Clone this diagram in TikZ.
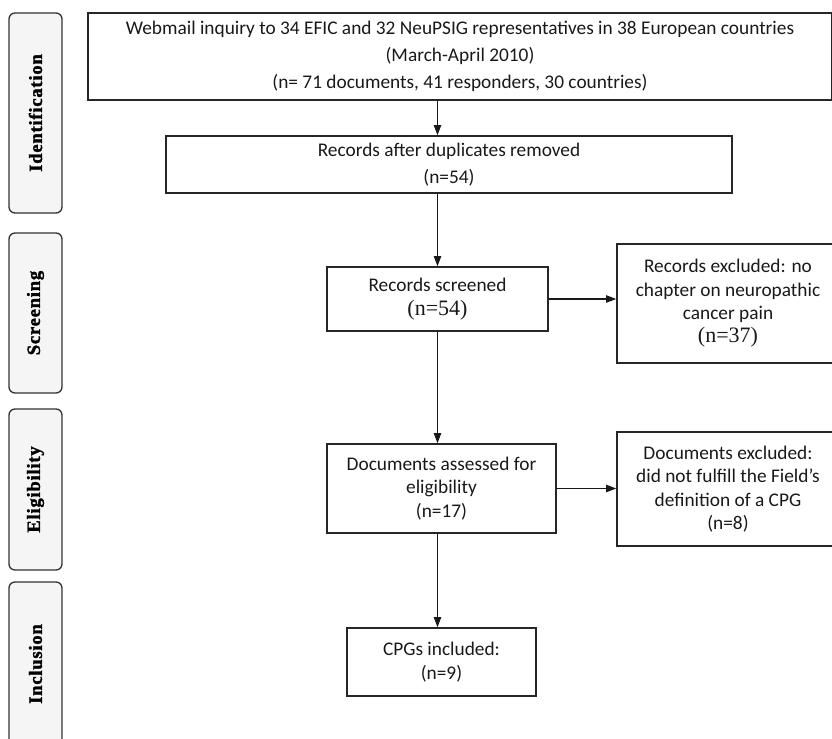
\documentclass[tikz,border=0pt]{standalone}
\usepackage{fontspec}
\setmainfont{Carlito}
\newfontfamily\numfont{Liberation Serif}
\newfontfamily\phasefont[LetterSpace=4,FakeBold=1.6]{Liberation Serif Bold}
\usetikzlibrary{arrows.meta}

\newcommand{\tnum}[1]{{\numfont\fontsize{16.5}{17.5}\selectfont(n=#1)}}

\begin{document}
\begin{tikzpicture}[x=0.75pt,y=-0.75pt]
                        \tikzstyle{phase}=[draw=black!80, fill=black!4, line width=1pt, rounded corners=4.5pt,
                            rotate=90, minimum height=53*0.75pt, inner sep=0pt,
                            font=\phasefont\fontsize{14}{16}\selectfont]
                        \tikzstyle{box}=[draw=black!85, line width=1.2pt, align=center, inner sep=0pt,
                            text=black!90, font=\fontsize{14.5}{17.5}\selectfont]
                        \tikzstyle{wide}=[font=\fontsize{14.5}{20}\selectfont]
                        \tikzstyle{arr}=[-{Triangle[length=7.5pt,width=5.5pt]}, line width=0.8pt, draw=black!90]
                        \useasboundingbox (0,0) rectangle (832,739);

                        % phases on the left
                        \node[phase, minimum width=200*0.75pt] (ident) at (35.5,113) {Identification};
                        \node[phase, minimum width=160*0.75pt] (scr) at (35.5,313) {Screening};
                        \node[phase, minimum width=161*0.75pt] (elg) at (35.5,489.5) {Eligibility};
                        \node[phase, minimum width=164*0.75pt] (inc) at (35.5,664) {Inclusion};

                        % flow boxes
                        \node[box, wide, minimum width=744*0.75pt, minimum height=87*0.75pt] (inquiry) at (460,56.5)
                            {Webmail inquiry to 34 EFIC and 32 NeuPSIG representatives in 38 European countries\\
                             (March-April 2010)\\
                             (n= 71 documents, 41 responders, 30 countries)};
                        \node[box, wide, minimum width=566*0.75pt, minimum height=57*0.75pt] (dupl) at (449,164.5)
                            {Records after duplicates removed\\ (n=54)};
                        \node[box, minimum width=221*0.75pt, minimum height=64*0.75pt] (screened) at (437.5,299)
                            {Records screened\\ \tnum{54}};
                        \node[box, minimum width=222*0.75pt, minimum height=119*0.75pt] (exclrec) at (728,303.5)
                            {Records excluded: no\\ chapter on neuropathic\\ cancer pain\\ \tnum{37}};
                        \node[box, minimum width=229*0.75pt, minimum height=89*0.75pt] (assessed) at (441.5,488.5)
                            {Documents assessed for\\ eligibility\\ (n=17)};
                        \node[box, minimum width=222*0.75pt, minimum height=114*0.75pt] (excldoc) at (728,489)
                            {Documents excluded:\\ did not fulfill the Field’s\\ definition of a CPG\\ (n=8)};
                        \node[box, minimum width=189*0.75pt, minimum height=68*0.75pt] (cpgs) at (441.5,662)
                            {CPGs included:\\ (n=9)};

                        % arrows
                        \draw[arr] (inquiry.south -| screened.south) -- (dupl.north -| screened.south);
                        \draw[arr] (dupl.south -| screened.north) -- (screened.north);
                        \draw[arr] (screened.east) -- (screened.east -| exclrec.west);
                        \draw[arr] (screened.south) -- (assessed.north -| screened.south);
                        \draw[arr] (assessed.east) -- (assessed.east -| excldoc.west);
                        \draw[arr] (assessed.south -| screened.south) -- (cpgs.north -| screened.south);
                    \end{tikzpicture}
\end{document}
